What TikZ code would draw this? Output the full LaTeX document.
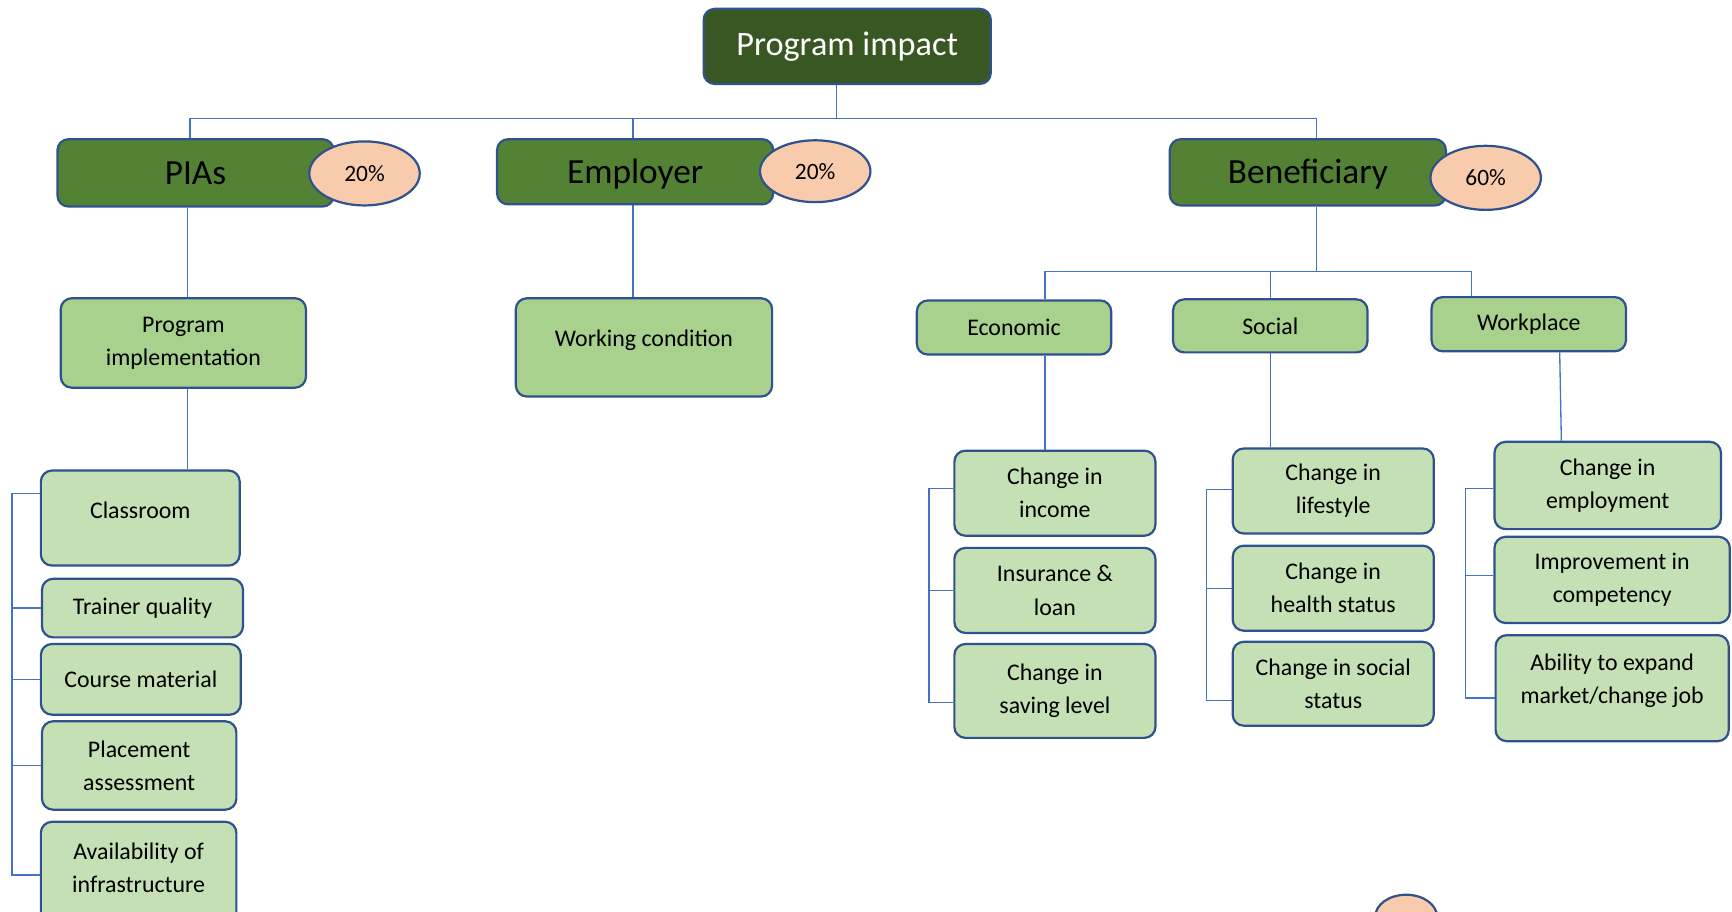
\documentclass[tikz,border=0pt]{standalone}
\usepackage{fontspec}
\setmainfont{Carlito}
\usetikzlibrary{shapes.geometric}
\definecolor{topgreen}{HTML}{385723}
\definecolor{midgreen}{HTML}{548235}
\definecolor{lightgreen}{HTML}{A9D18E}
\definecolor{palegreen}{HTML}{C5E0B4}
\definecolor{peach}{HTML}{F8CBAD}
\definecolor{edgeblue}{HTML}{2F528F}
\definecolor{linkblue}{HTML}{4472C4}
\begin{document}
\begin{tikzpicture}[x=0.5pt,y=-0.5pt,
  wh/.style 2 args={minimum width=#1*0.5pt,minimum height=#2*0.5pt},
  box/.style={draw=edgeblue,line width=1pt,rounded corners=5pt,align=center,inner sep=0pt},
  topbox/.style={box,fill=topgreen,text=white,font=\fontsize{15.5}{18}\selectfont},
  lvlone/.style={box,fill=midgreen,text height=10.5pt,text depth=0pt,font=\fontsize{16}{19}\selectfont},
  lvltwo/.style={box,fill=lightgreen,font=\fontsize{10.8}{15}\selectfont},
  lvlthree/.style={box,fill=palegreen,font=\fontsize{10.8}{15}\selectfont},
  pct/.style={ellipse,draw=edgeblue,line width=1pt,fill=peach,inner sep=0pt,font=\fontsize{10.6}{12}\selectfont},
  link/.style={draw=linkblue,line width=0.6pt}]
  \useasboundingbox (0,0) rectangle (1568,825);

  \node[topbox,wh={260}{68}] (impact) at (767,42) {Program impact};

  \node[lvlone,wh={250}{61}] (pias) at (177,156.5) {PIAs};
  \node[lvlone,wh={250}{59}] (employer) at (575,155.5) {Employer};
  \node[lvlone,wh={250}{60}] (benef) at (1184,156) {Beneficiary};
  \node[pct,wh={100}{58}] (piaspct) at (330,157) {20\%};
  \node[pct,wh={100}{56}] (emppct) at (738,155) {20\%};
  \node[pct,wh={100}{58}] (benpct) at (1345,161) {60\%};

  % PIAs branch
  \node[lvltwo,wh={222}{81}] (impl) at (166,310.5) {Program\\implementation};
  \node[lvlthree,wh={180}{86},text depth=7pt] (classroom) at (127,469) {Classroom};
  \node[lvlthree,wh={182}{53}] (trainer) at (129,550.5) {Trainer quality};
  \node[lvlthree,wh={181}{64}] (course) at (127.5,615) {Course material};
  \node[lvlthree,wh={176}{80}] (placement) at (126,693) {Placement\\assessment};
  \node[lvlthree,wh={177}{96},text depth=6.5pt] (avail) at (125.5,792) {Availability of\\infrastructure};

  % Employer branch
  \node[lvltwo,wh={232}{89},text depth=8pt] (working) at (583,314.5) {Working condition};

  % Beneficiary branch
  \node[lvltwo,wh={176}{49}] (economic) at (918,296.5) {Economic};
  \node[lvltwo,wh={176}{48}] (social) at (1150,295) {Social};
  \node[lvltwo,wh={176}{49}] (workplace) at (1384,293.5) {Workplace};

  \node[lvlthree,wh={182}{77}] (income) at (955,446.5) {Change in\\income};
  \node[lvlthree,wh={182}{77}] (insurance) at (955,534.5) {Insurance \&\\loan};
  \node[lvlthree,wh={182}{85}] (saving) at (955,625.5) {Change in\\saving level};

  \node[lvlthree,wh={182}{77}] (lifestyle) at (1207,444.5) {Change in\\lifestyle};
  \node[lvlthree,wh={182}{77}] (health) at (1207,532.5) {Change in\\health status};
  \node[lvlthree,wh={182}{76}] (socstat) at (1207,619) {Change in social\\status};

  \node[lvlthree,wh={205}{79}] (employment) at (1455.5,439.5) {Change in\\employment};
  \node[lvlthree,wh={213}{78}] (competency) at (1459.5,525) {Improvement in\\competency};
  \node[lvlthree,wh={211}{96},text depth=8.6pt] (expand) at (1459.5,623) {Ability to expand\\market/change job};

  \node[pct,wh={56}{40}] (lostpct) at (1273,830) {};

  % connectors
  \coordinate (hub) at (757,107);
  \draw[link] ([xshift=-5pt]impact.south) -- (hub);
  \draw[link] ([xshift=-2.5pt]pias.north) |- (hub) -| ([xshift=4pt]benef.north);
  \draw[link] ([xshift=-1pt]employer.north) |- (hub);
  \draw[link] ([xshift=-3.5pt]pias.south) -- ([xshift=2pt]impl.north);
  \draw[link] ([xshift=2pt]impl.south) -- ([xshift=21.5pt]classroom.north);
  \draw[link] ([xshift=-1pt]employer.south) -- ([xshift=-5pt]working.north);

  \coordinate (benhub) at (1192,246);
  \draw[link] ([xshift=4pt]benef.south) -- (benhub);
  \draw[link] ([xshift=14pt]economic.north) |- (benhub) -| ([xshift=-26pt]workplace.north);
  \draw[link] (social.north) |- (benhub);
  \draw[link] ([xshift=14pt]economic.south) -- ([xshift=-4.5pt]income.north);
  \draw[link] (social.south) -- ([xshift=-28.5pt]lifestyle.north);
  \draw[link] ([xshift=14pt]workplace.south) -- ([xshift=-21pt]employment.north);

  % brackets
  \draw[link] ([yshift=11pt]classroom.west) -- ++(-25,0) coordinate (piasbar) |- (avail.west);
  \draw[link] (piasbar) |- (trainer.west);
  \draw[link] (piasbar) |- (course.west);
  \draw[link] (piasbar) |- (placement.west);

  \draw[link] ([yshift=2.25pt]income.west) -- ++(-22,0) coordinate (econbar) |- ([yshift=-5.25pt]saving.west);
  \draw[link] (econbar) |- (insurance.west);

  \draw[link] ([yshift=0.75pt]lifestyle.west) -- ++(-23,0) coordinate (socbar) |- ([yshift=-7.5pt]socstat.west);
  \draw[link] (socbar) |- (health.west);

  \draw[link] ([yshift=-1.25pt]employment.west) -- ++(-25,0) coordinate (workbar) |- ([yshift=-4.5pt]expand.west);
  \draw[link] (workbar) |- ([yshift=2pt]competency.west);
\end{tikzpicture}
\end{document}
